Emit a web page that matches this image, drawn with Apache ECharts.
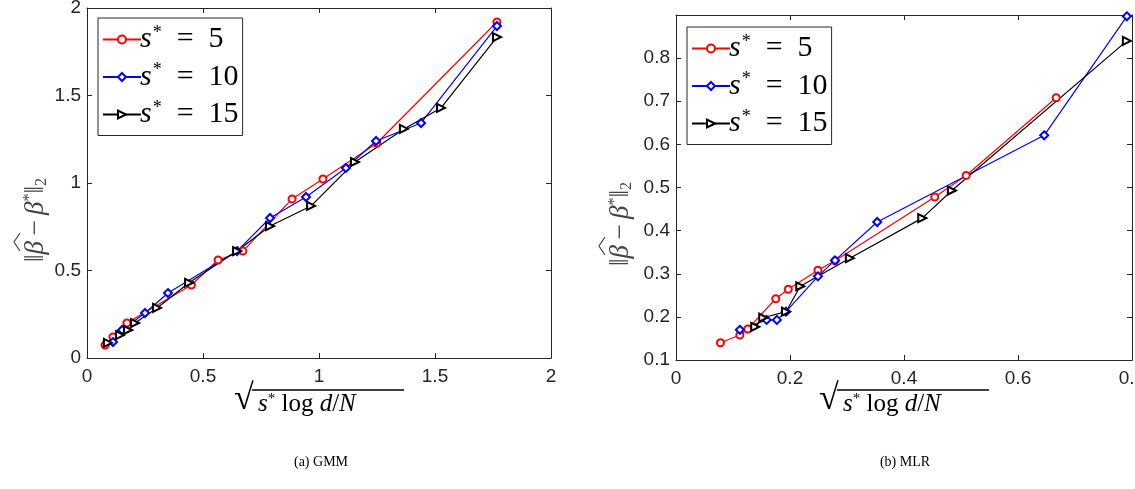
<!DOCTYPE html>
<html><head><meta charset="utf-8">
<script src="https://cdn.jsdelivr.net/npm/echarts@6/dist/echarts.min.js"></script>
<style>html,body{margin:0;padding:0;background:#fff}#c{width:1135px;height:489px}</style>
</head><body><div id="c"></div>
<script>
// ---- GMM (left) ----
const gmmX5  = [0.078,0.112,0.172,0.450,0.565,0.672,0.884,1.017,1.249,1.767];
const gmmY5  = [0.074,0.120,0.200,0.417,0.560,0.611,0.909,1.023,1.227,1.920];
const gmmX10 = [0.112,0.151,0.250,0.349,0.647,0.789,0.944,1.116,1.246,1.440,1.767];
const gmmY10 = [0.091,0.160,0.257,0.371,0.611,0.800,0.920,1.086,1.240,1.343,1.897];
const gmmX15 = [0.090,0.142,0.177,0.207,0.302,0.440,0.647,0.789,0.966,1.155,1.366,1.526,1.767];
const gmmY15 = [0.086,0.131,0.160,0.200,0.286,0.430,0.611,0.754,0.869,1.120,1.309,1.429,1.834];
// ---- MLR (right) ----
const mlrX5  = [0.078,0.112,0.126,0.175,0.197,0.249,0.279,0.454,0.509,0.667];
const mlrY5  = [0.140,0.158,0.172,0.242,0.264,0.308,0.330,0.478,0.528,0.708];
const mlrX10 = [0.112,0.159,0.177,0.193,0.249,0.279,0.353,0.646,0.791];
const mlrY10 = [0.170,0.193,0.193,0.212,0.294,0.331,0.420,0.621,0.897];
const mlrX15 = [0.139,0.153,0.193,0.218,0.305,0.432,0.484,0.791];
const mlrY15 = [0.177,0.198,0.212,0.271,0.336,0.429,0.493,0.840];

const gmmXTicks = {min:0, max:2, interval:0.5};
const gmmYTicks = {min:0, max:2, interval:0.5};
const mlrXTicks = {min:0, max:0.8, interval:0.2};
const mlrYTicks = {min:0.1, max:0.9, interval:0.1};

const seriesNames = ['s* = 5','s* = 10','s* = 15'];

const zip = (a,b)=>a.map((v,i)=>[v,b[i]]);
const axisColor = '#262626';
const labelFont = {fontFamily:'Liberation Sans, Arial, sans-serif', fontSize:19, color:axisColor};

function xAx(grid, t, pos, show){
  return {type:'value', gridIndex:grid, position:pos, min:t.min, max:t.max, interval:t.interval,
    axisLine:{show:true, onZero:false, lineStyle:{color:axisColor,width:1}},
    axisTick:{show:true, inside:true, length:5, lineStyle:{color:axisColor}},
    axisLabel:{show:show, margin:9, hideOverlap:false, ...labelFont, formatter:v=>String(+v.toFixed(2))},
    splitLine:{show:false}};
}
function yAx(grid, t, pos, show){
  return {type:'value', gridIndex:grid, position:pos, min:t.min, max:t.max, interval:t.interval,
    axisLine:{show:true, onZero:false, lineStyle:{color:axisColor,width:1}},
    axisTick:{show:true, inside:true, length:5, lineStyle:{color:axisColor}},
    axisLabel:{show:show, margin:6, showMaxLabel: t.max!==0.9, ...labelFont, formatter:v=>String(+v.toFixed(2))},
    splitLine:{show:false}};
}

const styles = [
  {color:'#ff0000', symbol:'emptyCircle', symbolSize:7, rot:0},
  {color:'#0000ff', symbol:'emptyDiamond', symbolSize:8, rot:0},
  {color:'#000000', symbol:'emptyTriangle', symbolSize:8, rot:-90}
];
function mk(name, data, xi, yi, s){
  return {name, type:'line', data, xAxisIndex:xi, yAxisIndex:yi, symbol:s.symbol, symbolSize:s.symbolSize,
    symbolRotate:s.rot, showAllSymbol:true, animation:false,
    lineStyle:{color:s.color,width:1.2}, itemStyle:{color:s.color, borderColor:s.color, borderWidth:1.2}};
}

const sFont = 'Liberation Serif, DejaVu Serif, serif';
const rich = {
  i:{fontFamily:sFont, fontStyle:'italic', fontSize:30, color:'#000', lineHeight:31},
  sup:{fontFamily:sFont, fontSize:18, color:'#000', verticalAlign:'top', padding:[0,0,12,1], lineHeight:31},
  t:{fontFamily:sFont, fontSize:30, color:'#000', lineHeight:31}
};
function legendFmt(n){ const v=n.split('= ')[1]; return '{i|s}{sup|*}{t|\u2002=\u2002'+v+'}'; }
function legend(left, top){
  return {left, top, orient:'vertical', data:seriesNames, formatter:legendFmt, itemGap:7, itemWidth:38, itemHeight:10,
    padding:[6,4,6,4], borderColor:axisColor, borderWidth:1, backgroundColor:'#fff',
    selectedMode:false, textStyle:{rich, padding:[0,0,0,-6]}};
}

// axis titles as text graphics
const tFont = 'Liberation Serif, DejaVu Serif, serif';
function xTitle(cx){
  return {type:'group', left:cx-86, top:382, children:[
    {type:'text', left:0, top:2, style:{text:'√', font:'36px '+tFont, fill:'#000'}},
    {type:'line', shape:{x1:18, y1:10, x2:170, y2:10}, style:{stroke:'#000', lineWidth:1.3}},
    {type:'text', left:24, top:12, style:{rich:{
      i:{fontFamily:tFont, fontStyle:'italic', fontSize:25, fill:'#000'},
      sup:{fontFamily:tFont, fontSize:15, fill:'#000', verticalAlign:'top', padding:[0,0,10,0]},
      n:{fontFamily:tFont, fontSize:25, fill:'#000'}},
      text:'{i|s}{sup|*}{n| log }{i|d}{n|/}{i|N}'}}
  ]};
}
function yTitle(cx, cyBottom){
  const c = '#444';
  return {type:'group', x:cx, y:cyBottom, rotation:Math.PI/2, children:[
    {type:'text', x:0, y:0, style:{rich:{
      n:{fontFamily:tFont, fontSize:27, fill:c},
      i:{fontFamily:tFont, fontStyle:'italic', fontSize:27, fill:c},
      sup:{fontFamily:tFont, fontSize:16, fill:c, verticalAlign:'top', padding:[0,0,12,0]},
      sub:{fontFamily:tFont, fontSize:16, fill:c, padding:[12,0,0,0]}},
      text:'{n|‖}{i|β}{n|\u2009−\u2009}{i|β}{sup|*}{n|‖}{sub|2}', align:'left', verticalAlign:'middle'}},
    {type:'polyline', shape:{points:[[11,-16],[20,-22],[29,-16]]}, style:{stroke:c, lineWidth:1.2, fill:null}}
  ]};
}

const chart = echarts.init(document.getElementById('c'), null, {renderer:'canvas'});
chart.setOption({
  animation:false,
  backgroundColor:'#fff',
  grid:[
    {left:87, right:584, top:8, bottom:131, containLabel:false, outerBoundsMode:'none'},
    {left:676, right:3, top:15, bottom:129, containLabel:false, outerBoundsMode:'none'}
  ],
  xAxis:[xAx(0,gmmXTicks,'bottom',true), xAx(0,gmmXTicks,'top',false), xAx(1,mlrXTicks,'bottom',true), xAx(1,mlrXTicks,'top',false)],
  yAxis:[yAx(0,gmmYTicks,'left',true), yAx(0,gmmYTicks,'right',false), yAx(1,mlrYTicks,'left',true), yAx(1,mlrYTicks,'right',false)],
  legend:[legend(98,18), legend(687,27)],
  series:[
    mk(seriesNames[0], zip(gmmX5,gmmY5), 0, 0, styles[0]),
    mk(seriesNames[1], zip(gmmX10,gmmY10), 0, 0, styles[1]),
    mk(seriesNames[2], zip(gmmX15,gmmY15), 0, 0, styles[2]),
    mk(seriesNames[0], zip(mlrX5,mlrY5), 2, 2, styles[0]),
    mk(seriesNames[1], zip(mlrX10,mlrY10), 2, 2, styles[1]),
    mk(seriesNames[2], zip(mlrX15,mlrY15), 2, 2, styles[2])
  ],
  graphic:[
    xTitle(320), xTitle(905),
    yTitle(36, 262), yTitle(621, 266),
    {type:'text', x:321, y:462, style:{text:'(a) GMM', font:'14px '+tFont, fill:'#000', align:'center', verticalAlign:'middle'}},
    {type:'text', x:905, y:462, style:{text:'(b) MLR', font:'14px '+tFont, fill:'#000', align:'center', verticalAlign:'middle'}}
  ]
});
</script></body></html>
